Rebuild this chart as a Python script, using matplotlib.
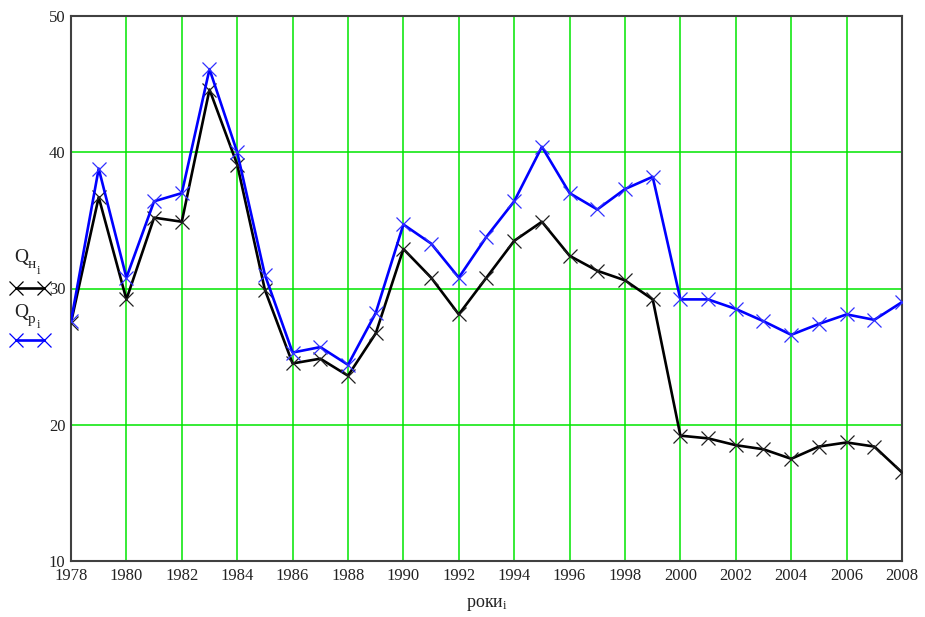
import matplotlib
matplotlib.use("Agg")
import matplotlib.pyplot as plt
from matplotlib.lines import Line2D

plt.rcParams['font.family'] = ['Liberation Serif', 'DejaVu Serif']
plt.rcParams['mathtext.fontset'] = 'custom'
plt.rcParams['mathtext.rm'] = 'Liberation Serif'
plt.rcParams['mathtext.it'] = 'Liberation Serif:italic'

years = list(range(1978, 2009))
q_n = [27.5, 36.7, 29.2, 35.2, 34.9, 44.6, 39.1, 29.9, 24.5, 24.85, 23.6,
       26.7, 32.9, 30.8, 28.1, 30.8, 33.5, 34.9, 32.4, 31.3, 30.6, 29.2,
       19.2, 19.0, 18.5, 18.2, 17.5, 18.4, 18.7, 18.4, 16.5]
q_p = [27.6, 38.8, 30.8, 36.4, 37.0, 46.1, 40.0, 31.0, 25.3, 25.7, 24.4,
       28.2, 34.7, 33.3, 30.8, 33.8, 36.4, 40.4, 37.0, 35.8, 37.3, 38.2,
       29.2, 29.2, 28.5, 27.6, 26.6, 27.4, 28.1, 27.7, 29.0]
x_ticks = list(range(1978, 2009, 2))
y_ticks = [10, 20, 30, 40, 50]

W, H = 925, 617
fig = plt.figure(figsize=(W / 100, H / 100), dpi=100)
ax = fig.add_axes([71/W, 56/H, 831/W, 545/H])

ax.plot(years, q_n, color='black', lw=1.9, marker='x', ms=9.5, mew=0.9,
        mec='#202020', zorder=3)
ax.plot(years, q_p, color='#0000ff', lw=1.9, marker='x', ms=9.5, mew=0.9,
        mec='#3030ff', zorder=4)

ax.set_xlim(1978, 2008)
ax.set_ylim(10, 50)
ax.set_xticks(x_ticks)
ax.set_yticks(y_ticks)
ax.grid(True, color='#00e600', lw=1.1, zorder=0)
ax.set_axisbelow(True)
ax.tick_params(length=0, labelsize=12, colors='#222222', pad=4)
ax.tick_params(axis='x', pad=5)
for s in ax.spines.values():
    s.set_color('#404040')
    s.set_linewidth(1.5)

ax.set_xlabel(r'роки$_\mathrm{i}$', fontsize=13, labelpad=9, color='#222222')


def ftxt(x, y, s, size):
    fig.text(x / W, 1 - y / H, s, fontsize=size, color='#222222',
             ha='left', va='baseline')


# legend at left (outside axes)
ftxt(14, 262, 'Q', 14)
ftxt(28, 268, 'н', 11)
ftxt(37, 274, 'i', 9)
ftxt(14, 317, 'Q', 14)
ftxt(28, 323, 'p', 11)
ftxt(37, 328, 'i', 9)
fig.add_artist(Line2D([16/W, 44/W], [1 - 288/H, 1 - 288/H],
                      transform=fig.transFigure, color='black', lw=1.9,
                      marker='x', ms=9.5, mew=0.9))
fig.add_artist(Line2D([16/W, 44/W], [1 - 340/H, 1 - 340/H],
                      transform=fig.transFigure, color='#0000ff', lw=1.9,
                      marker='x', ms=9.5, mew=0.9))

fig.savefig('out.png', dpi=100)
